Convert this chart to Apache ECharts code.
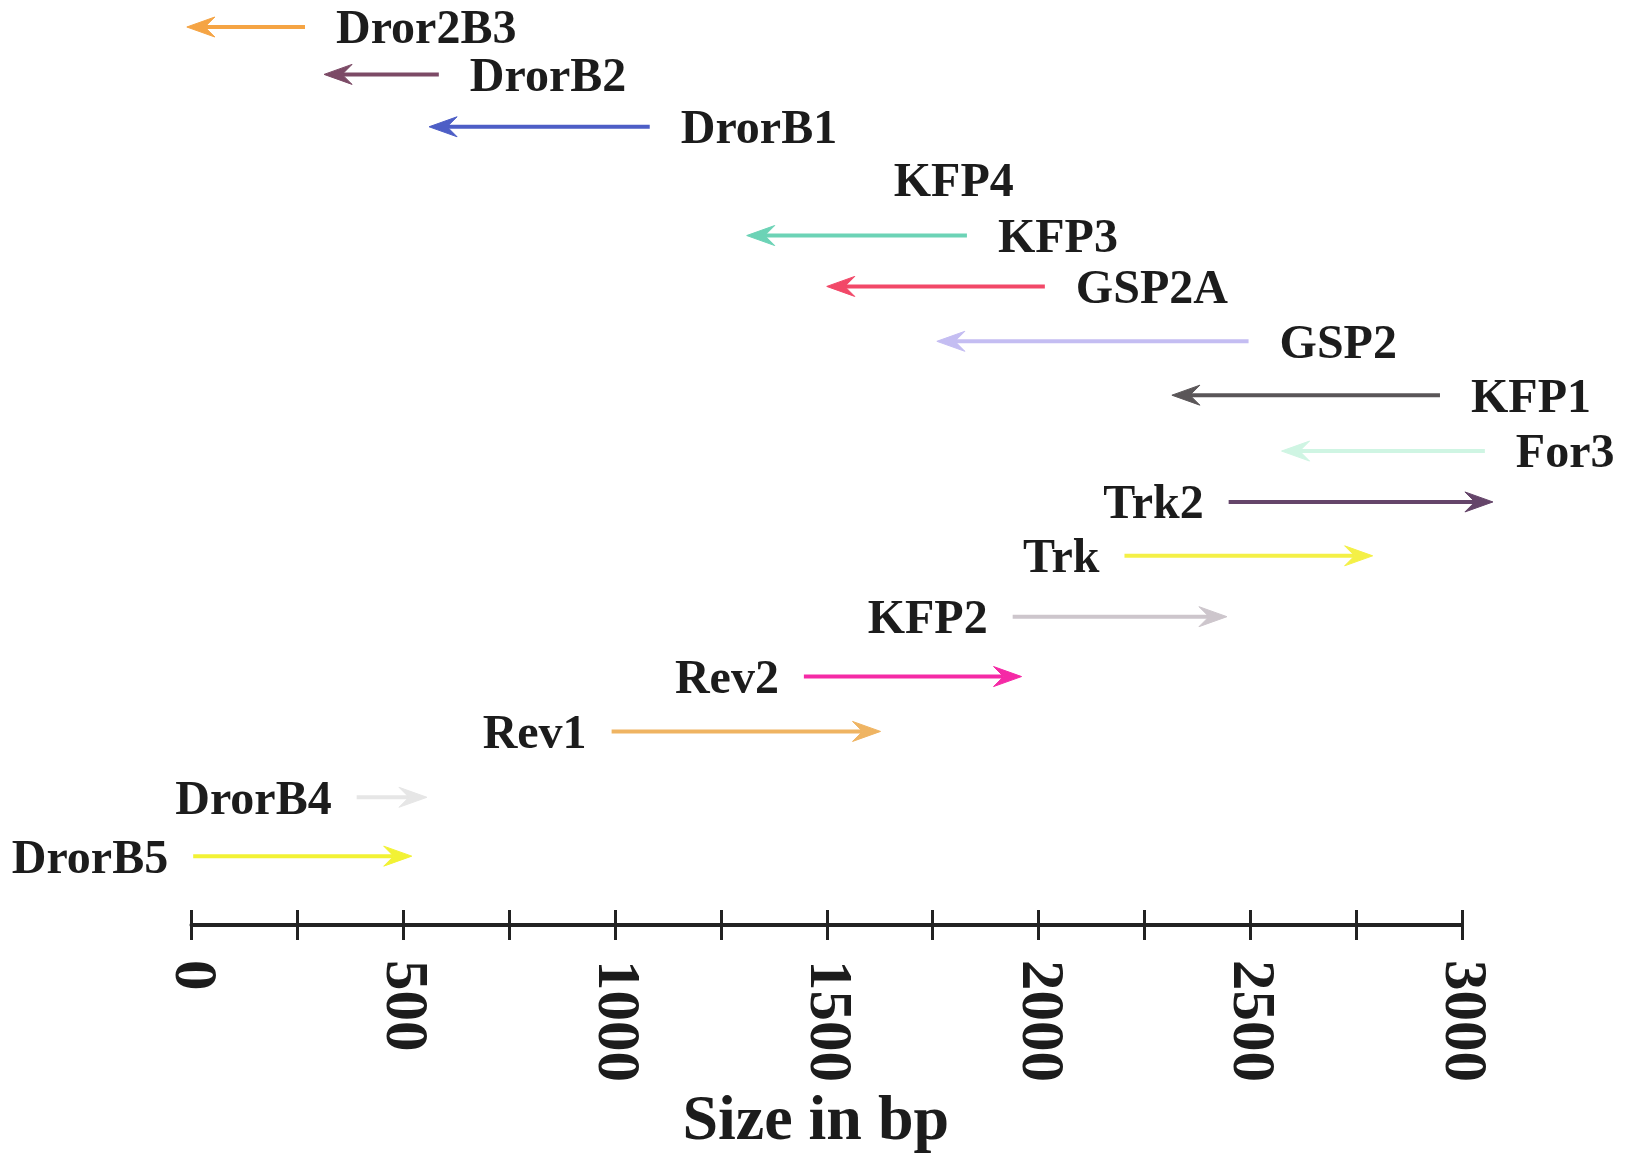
<!DOCTYPE html>
<html>
<head>
<meta charset="utf-8">
<script src="https://cdn.jsdelivr.net/npm/echarts@6/dist/echarts.min.js"></script>
<style>
html,body{margin:0;padding:0;background:#fff;}
#chart{width:1625px;height:1159px;}
</style>
</head>
<body>
<div id="chart"></div>
<script>
// Primer names, top to bottom
const names = ['Dror2B3','DrorB2','DrorB1','KFP4','KFP3','GSP2A','GSP2','KFP1','For3','Trk2','Trk','KFP2','Rev2','Rev1','DrorB4','DrorB5'];
// 5' end (arrow tail) position in bp
const starts = [268, 584, 1082, 1585, 1831, 2015, 2496, 2948, 3054, 2449, 2203, 1939, 1446, 992, 390, 4];
// 3' end (arrow head) position in bp (null = no arrow drawn)
const ends = [-11, 313, 561, null, 1311, 1500, 1760, 2315, 2574, 3073, 2789, 2445, 1960, 1627, 556, 520];
// vertical lane of each primer (axis units, 0 = scale bar)
const lanes = [18.0, 17.05, 16.0, 14.95, 13.82, 12.8, 11.7, 10.62, 9.5, 8.48, 7.4, 6.18, 4.98, 3.88, 2.56, 1.38];
const colors = ['#f5a444','#7c4a66','#4d5ec6','#ffffff','#6cd3b6','#f24868','#c4bdf2','#5a5658','#cff5e3','#65456a','#f4f046','#cdc6cc','#f52aa6','#efb462','#e6e6e6','#f2f234'];
const tickLabels = ['0','500','1000','1500','2000','2500','3000'];
const axisTitle = 'Size in bp';

const FONT = '"Liberation Serif","Times New Roman",serif';
const data = names.map((n, i) => [starts[i], ends[i] == null ? starts[i] : ends[i], lanes[i], i]);

function renderItem(params, api) {
  const i = api.value(3);
  const p0 = api.coord([api.value(0), api.value(2)]);
  const p1 = api.coord([api.value(1), api.value(2)]);
  const children = [];
  let dir = p1[0] >= p0[0] ? 1 : -1;
  if (ends[i] == null) dir = -1;
  const y = p0[1];
  if (ends[i] != null) {
    const hl = 28, hw = 10, notch = 18;
    children.push({
      type: 'line',
      shape: {x1: p0[0], y1: y, x2: p1[0] - dir * notch, y2: y},
      style: {stroke: colors[i], lineWidth: 4}
    });
    children.push({
      type: 'polygon',
      shape: {points: [[p1[0], y], [p1[0] - dir * hl, y - hw], [p1[0] - dir * notch, y], [p1[0] - dir * hl, y + hw]]},
      style: {fill: colors[i], stroke: colors[i], lineWidth: 1}
    });
  }
  children.push({
    type: 'text',
    style: {
      text: names[i],
      x: dir > 0 ? p0[0] - 25 : p0[0] + 31,
      y: y + 4,
      align: dir > 0 ? 'right' : 'left',
      verticalAlign: 'middle',
      fill: '#1c1c1c',
      font: 'bold 48px ' + FONT
    }
  });
  return {type: 'group', children: children};
}

const chart = echarts.init(document.getElementById('chart'), null, {renderer: 'canvas'});
chart.setOption({
  backgroundColor: '#ffffff',
  animation: false,
  grid: {left: 191.5, right: 163, top: 27, bottom: 232, containLabel: false},
  xAxis: [
    {
      type: 'value', min: 0, max: 3000, interval: 250, position: 'bottom',
      axisLine: {show: true, lineStyle: {color: '#222', width: 4}},
      axisTick: {show: true, inside: false, length: 15, lineStyle: {color: '#222', width: 3}},
      axisLabel: {
        rotate: -90, margin: 35,
        formatter: v => (v % 500 === 0 ? tickLabels[v / 500] : ''),
        fontFamily: FONT, fontWeight: 'bold', fontSize: 61, color: '#1c1c1c'
      },
      splitLine: {show: false},
      name: axisTitle, nameLocation: 'middle', nameGap: 165,
      nameTextStyle: {fontFamily: FONT, fontWeight: 'bold', fontSize: 64, color: '#1c1c1c', padding: [0, 22, 0, 0]}
    },
    {
      type: 'value', min: 0, max: 3000, interval: 250, position: 'bottom',
      axisLine: {show: false},
      axisTick: {show: true, inside: true, length: 15, lineStyle: {color: '#222', width: 3}},
      axisLabel: {show: false},
      splitLine: {show: false}
    }
  ],
  yAxis: {type: 'value', min: 0, max: 18, show: false},
  series: [{
    type: 'custom',
    renderItem: renderItem,
    data: data,
    clip: false,
    encode: {x: [0, 1], y: 2}
  }]
});
</script>
</body>
</html>
